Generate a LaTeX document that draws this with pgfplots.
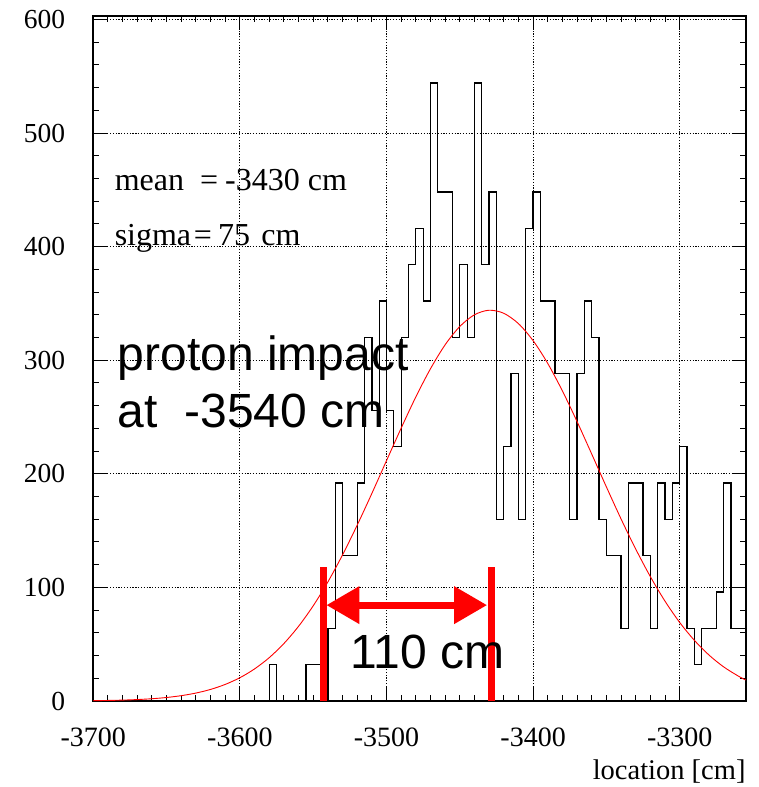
\documentclass[border=0pt]{standalone}
\usepackage{pgfplots}
\pgfplotsset{compat=1.18}
\usepackage{fontspec}
\setmainfont{Liberation Serif}
\newfontfamily\arial{Liberation Sans}
\usetikzlibrary{arrows.meta}
\begin{document}
\begin{tikzpicture}
\begin{axis}[
  scale only axis, width=652.4pt, height=685pt,
  xmin=-3700, xmax=-3255, ymin=0, ymax=603,
  clip=false,
  xtick={-3700,-3600,-3500,-3400,-3300},
  xticklabels={-3700,-3600,-3500,-3400,-3300},
  ytick={0,100,200,300,400,500,600},
  yticklabels={0,100,200,300,400,500,600},
  minor x tick num=9, minor y tick num=4,
  tick align=inside, tick pos=both,
  major tick length=14pt, minor tick length=6pt,
  every tick/.style={black, line width=1pt},
  axis line style={black, line width=1.6pt},
  grid=major,
  major grid style={black, line width=0.9pt, dash pattern=on 1.2pt off 1.6pt},
  xticklabel style={font=\fontsize{28}{32}\selectfont, anchor=base, inner sep=0pt, yshift=-45pt},
  yticklabel style={font=\fontsize{27.5}{32}\selectfont, anchor=east, inner sep=0pt, xshift=-28pt},
]
\coordinate (bl) at (rel axis cs:0,0);
\coordinate (tr) at (rel axis cs:1,1);

% histogram (left bin edge, content), bin width 5 cm
\addplot[const plot, black, line width=1.3pt] coordinates {
(-3700,0) (-3580,32) (-3575,0) (-3555,32) (-3550,32) (-3545,0)
(-3540,64) (-3535,192) (-3530,128) (-3525,128) (-3520,192) (-3515,320)
(-3510,256) (-3505,352) (-3500,256) (-3495,224) (-3490,320) (-3485,384)
(-3480,416) (-3475,352) (-3470,544) (-3465,448) (-3460,448) (-3455,320)
(-3450,384) (-3445,320) (-3440,544) (-3435,384) (-3430,448) (-3425,160)
(-3420,224) (-3415,288) (-3410,160) (-3405,416) (-3400,448) (-3395,352)
(-3390,352) (-3385,288) (-3380,288) (-3375,160) (-3370,288) (-3365,352)
(-3360,320) (-3355,160) (-3350,128) (-3345,128) (-3340,64) (-3335,192)
(-3330,192) (-3325,128) (-3320,64) (-3315,192) (-3310,160) (-3305,192)
(-3300,224) (-3295,64) (-3290,32) (-3285,64) (-3280,64) (-3275,96)
(-3270,192) (-3265,64) (-3260,64) (-3255,64)
};

% fitted gaussian
\addplot[red, line width=0.9pt, smooth] coordinates {
(-3700,0.29) (-3690,0.48) (-3680,0.79) (-3670,1.27) (-3660,2.00) (-3650,3.09)
(-3640,4.70) (-3630,6.99) (-3620,10.20) (-3610,14.60) (-3600,20.50) (-3590,28.24)
(-3580,38.15) (-3570,50.57) (-3560,65.74) (-3550,83.80) (-3540,104.8) (-3530,128.6)
(-3520,154.8) (-3510,182.7) (-3500,211.6) (-3490,240.2) (-3480,267.7) (-3470,292.5)
(-3460,313.6) (-3450,329.7) (-3440,340.0) (-3430,344.0) (-3420,341.3) (-3410,332.2)
(-3400,317.2) (-3390,297.1) (-3380,272.9) (-3370,245.9) (-3360,217.3) (-3350,188.4)
(-3340,160.2) (-3330,133.7) (-3320,109.4) (-3310,87.8) (-3300,69.1) (-3290,53.4)
(-3280,40.4) (-3270,30.0) (-3260,21.9) (-3255,18.5)
};

% annotations
\draw[red, line width=7pt] (axis cs:-3543.3,0) -- (axis cs:-3543.3,118);
\draw[red, line width=7pt] (axis cs:-3428.7,0) -- (axis cs:-3428.7,118);
\draw[red, line width=7pt, {Triangle[length=33pt,width=36pt]}-{Triangle[length=33pt,width=36pt]}]
  (axis cs:-3541,84.4) -- (axis cs:-3431.4,84.4);

\node[anchor=base west, inner sep=0pt, font=\fontsize{32}{36}\selectfont]
  at (axis cs:-3685.5,449.4) {mean\hspace{0.5em}=\hspace{0.22em}-3430 cm};
\node[anchor=base west, inner sep=0pt, font=\fontsize{32}{36}\selectfont]
  at (axis cs:-3685.5,401) {sigma\hspace{0.08em}=\hspace{0.2em}75\hspace{0.1em} cm};

\node[anchor=base west, inner sep=0pt, font=\arial\fontsize{48}{56}\selectfont]
  at (axis cs:-3683.5,291) {proton impact};
\node[anchor=base west, inner sep=0pt, font=\arial\fontsize{48}{56}\selectfont]
  at (axis cs:-3683.5,241) {at\hspace{0.556em}-3540 cm};
\node[anchor=base west, inner sep=0pt, font=\arial\fontsize{48}{56}\selectfont]
  at (axis cs:-3524.5,28.7) {110 cm};

\node[anchor=base east, inner sep=0pt, font=\fontsize{28.5}{32}\selectfont]
  at (axis cs:-3255,-69.5) {location [cm]};
\end{axis}
\pgfresetboundingbox
\path ([shift={(-93.3pt,-86pt)}]bl) rectangle ([shift={(12.3pt,16pt)}]tr);
\end{tikzpicture}
\end{document}
